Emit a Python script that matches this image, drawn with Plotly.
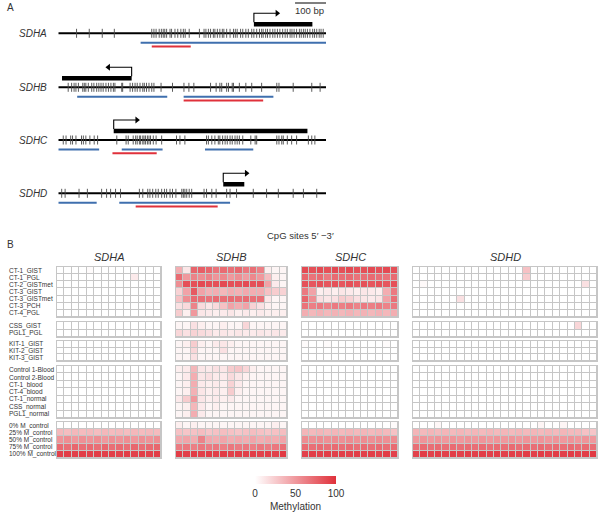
import plotly.graph_objects as go

W, H = 600, 519
FONT = "Liberation Sans, Arial, sans-serif"

# ---------------- Panel A data (positions in bp) ----------------
region_bp = 865
scale_bar_bp = 100
genes = ["SDHA", "SDHB", "SDHC", "SDHD"]

sdha_cpg = [59, 100, 142, 181, 302, 309, 316, 326, 333, 339, 344, 350, 361, 366, 377, 386, 396, 404,
            410, 423, 456, 471, 477, 485, 492, 501, 506, 514, 522, 530, 535, 544, 555, 566, 572, 578,
            589, 596, 606, 614, 625, 632, 641, 650, 657, 662, 670, 676, 684, 693, 700, 708, 716, 725,
            733, 740, 749, 755, 762, 770, 779, 785, 792, 798, 805, 813, 822, 828, 835, 843, 849, 856]
sdhb_cpg = [32, 43, 51, 57, 65, 79, 84, 89, 97, 108, 115, 124, 131, 138, 145, 154, 162, 170, 178, 183,
            205, 208, 232, 240, 248, 255, 264, 273, 278, 285, 293, 302, 309, 332, 369, 406, 422, 438,
            492, 510, 522, 528, 544, 550, 562, 566, 585, 606, 625, 657, 706, 713, 759, 819, 846]
sdhc_cpg = [16, 25, 40, 46, 57, 75, 81, 89, 102, 116, 127, 189, 219, 226, 242, 250, 255, 262, 266, 273,
            277, 282, 288, 293, 298, 307, 316, 334, 382, 393, 409, 479, 485, 496, 506, 517, 522, 531,
            539, 546, 555, 562, 571, 578, 585, 596, 622, 636, 641, 706, 713, 722, 727, 740, 754, 770,
            808, 819, 829]
sdhd_cpg = [11, 22, 67, 94, 140, 156, 169, 185, 201, 262, 273, 289, 296, 305, 315, 323, 334, 343, 350,
            361, 369, 380, 399, 404, 409, 415, 423, 431, 471, 479, 496, 510, 544, 555, 576, 630, 673,
            711, 759, 792, 835]

exon_start = [632, 12, 179, 533]
exon_end = [821, 237, 805, 601]
tss_pos = [632, 237, 179, 533]
tss_dir = [1, -1, 1, 1]
tss_len = 75
blue_regions = [[(266, 865)], [(61, 352), (405, 695)], [(0, 132), (205, 337), (474, 630)], [(0, 124), (197, 555)]]
red_regions = [[(302, 428)], [(405, 662)], [(175, 318)], [(250, 515)]]

# ---------------- Panel B data (% methylation) ----------------
group1_labels = ["CT-1_GIST", "CT-1_PGL", "CT-2_GISTmet", "CT-3_GIST", "CT-3_GISTmet", "CT-3_PCH", "CT-4_PGL"]
group2_labels = ["CSS_GIST", "PGL1_PGL"]
group3_labels = ["KIT-1_GIST", "KIT-2_GIST", "KIT-3_GIST"]
group4_labels = ["Control 1-Blood", "Control 2-Blood", "CT-1_blood", "CT-4_blood", "CT-1_normal", "CSS_normal", "PGL1_normal"]
group5_labels = ["0% M_control", "25% M_control", "50% M_control", "75% M_control", "100% M_control"]

sdha_values = [
    [0, 0, 0, 0, 2, 0, 0, 0, 0, 0, 0, 0, 0, 0],
    [0, 0, 0, 0, 0, 0, 0, 0, 0, 0, 10, 0, 0, 0],
    [0, 0, 0, 0, 0, 0, 0, 0, 0, 0, 0, 0, 0, 0],
    [0, 0, 0, 0, 0, 0, 0, 0, 0, 0, 0, 0, 0, 0],
    [0, 0, 0, 0, 0, 0, 0, 0, 0, 0, 0, 0, 0, 0],
    [0, 0, 0, 0, 0, 0, 0, 0, 0, 0, 0, 0, 0, 0],
    [0, 0, 0, 0, 0, 0, 0, 0, 0, 0, 0, 0, 0, 0],
    [0, 0, 0, 0, 0, 0, 0, 0, 0, 0, 0, 0, 0, 0],
    [0, 0, 0, 0, 0, 0, 0, 0, 0, 0, 0, 0, 0, 0],
    [0, 0, 0, 0, 0, 0, 0, 0, 0, 0, 0, 0, 0, 0],
    [0, 0, 0, 0, 0, 0, 0, 0, 0, 0, 0, 0, 0, 0],
    [0, 0, 0, 0, 0, 0, 0, 0, 0, 0, 0, 0, 0, 0],
    [0, 0, 0, 0, 0, 0, 0, 0, 0, 0, 0, 0, 0, 0],
    [0, 0, 0, 0, 0, 0, 0, 0, 0, 0, 0, 0, 0, 0],
    [0, 0, 0, 0, 0, 0, 0, 0, 0, 0, 0, 0, 0, 0],
    [0, 0, 0, 0, 0, 0, 0, 0, 0, 0, 0, 0, 0, 0],
    [0, 0, 0, 0, 0, 0, 0, 0, 0, 0, 0, 0, 0, 0],
    [0, 0, 0, 0, 0, 0, 0, 0, 0, 0, 0, 0, 0, 0],
    [0, 0, 0, 0, 0, 0, 0, 0, 0, 0, 0, 0, 0, 0],
    [0, 0, 0, 0, 0, 0, 0, 0, 0, 0, 0, 0, 0, 0],
    [34, 32, 35, 33, 34, 32, 35, 33, 34, 32, 35, 33, 34, 33],
    [52, 55, 50, 54, 52, 55, 50, 54, 52, 55, 50, 54, 52, 55],
    [72, 70, 74, 70, 72, 70, 74, 70, 72, 70, 74, 70, 72, 74],
    [92, 94, 92, 94, 92, 94, 92, 94, 92, 94, 92, 94, 92, 94],
]
sdhb_values = [
    [40, 12, 75, 78, 75, 68, 72, 70, 74, 66, 70, 62, 8, 5, 5],
    [72, 50, 60, 55, 60, 52, 58, 50, 55, 48, 58, 50, 32, 8, 5],
    [55, 85, 85, 88, 85, 85, 88, 85, 85, 88, 85, 85, 45, 10, 5],
    [22, 45, 80, 45, 38, 40, 35, 40, 38, 42, 40, 40, 30, 25, 22],
    [30, 55, 72, 70, 68, 72, 70, 72, 70, 72, 70, 70, 12, 5, 5],
    [15, 18, 60, 18, 12, 18, 30, 45, 40, 45, 22, 15, 8, 5, 5],
    [25, 8, 50, 12, 10, 8, 10, 12, 8, 10, 8, 10, 8, 8, 8],
    [5, 5, 15, 8, 5, 5, 8, 5, 5, 20, 5, 5, 5, 5, 5],
    [20, 15, 22, 18, 15, 10, 12, 10, 12, 10, 10, 12, 10, 12, 10],
    [5, 8, 25, 8, 5, 10, 12, 8, 5, 5, 5, 5, 5, 5, 5],
    [5, 5, 20, 5, 5, 5, 15, 5, 5, 5, 5, 5, 5, 5, 5],
    [5, 5, 15, 5, 5, 5, 5, 5, 5, 5, 5, 5, 5, 5, 5],
    [8, 10, 35, 12, 10, 15, 12, 25, 28, 20, 8, 5, 5, 5, 5],
    [5, 10, 40, 12, 15, 10, 10, 18, 12, 8, 5, 5, 5, 5, 5],
    [5, 8, 40, 10, 8, 10, 8, 22, 10, 5, 5, 5, 5, 5, 5],
    [5, 8, 38, 12, 8, 10, 8, 25, 8, 5, 5, 5, 5, 5, 5],
    [10, 25, 50, 12, 8, 10, 8, 10, 5, 5, 5, 5, 5, 5, 5],
    [5, 8, 35, 10, 5, 8, 5, 5, 5, 5, 5, 5, 5, 5, 5],
    [5, 8, 40, 10, 5, 5, 5, 5, 5, 5, 5, 5, 5, 5, 5],
    [8, 5, 8, 5, 5, 5, 5, 5, 5, 5, 5, 5, 5, 8, 5],
    [30, 28, 30, 32, 28, 30, 32, 30, 28, 30, 32, 30, 28, 30, 32],
    [42, 44, 40, 60, 42, 40, 44, 40, 42, 40, 44, 40, 42, 40, 44],
    [64, 66, 62, 66, 64, 66, 62, 66, 64, 66, 62, 66, 64, 66, 70],
    [94, 92, 94, 92, 94, 92, 94, 92, 94, 92, 94, 92, 94, 92, 96],
]
sdhc_values = [
    [88, 85, 88, 85, 88, 85, 88, 85, 85, 88, 85, 88, 85],
    [75, 68, 72, 65, 72, 70, 72, 68, 70, 72, 70, 68, 72],
    [85, 82, 85, 82, 85, 82, 85, 82, 85, 82, 85, 82, 85],
    [65, 45, 8, 10, 8, 12, 10, 8, 12, 10, 8, 40, 65],
    [75, 55, 15, 12, 15, 25, 22, 15, 12, 10, 12, 45, 70],
    [68, 62, 65, 60, 65, 62, 65, 60, 65, 62, 65, 60, 65],
    [40, 35, 38, 35, 38, 35, 38, 35, 38, 35, 38, 35, 40],
    [0, 0, 0, 0, 0, 0, 0, 0, 0, 0, 0, 0, 0],
    [0, 0, 0, 0, 0, 0, 0, 0, 0, 0, 0, 0, 0],
    [2, 0, 0, 2, 0, 0, 0, 0, 0, 0, 0, 2, 0],
    [0, 0, 0, 0, 0, 0, 0, 0, 0, 0, 0, 0, 0],
    [0, 0, 0, 0, 0, 0, 0, 0, 0, 0, 0, 0, 0],
    [0, 0, 0, 0, 0, 0, 0, 0, 0, 0, 0, 0, 0],
    [0, 0, 0, 0, 0, 0, 0, 0, 0, 0, 0, 0, 0],
    [0, 0, 0, 0, 0, 0, 0, 0, 0, 0, 0, 0, 0],
    [0, 0, 0, 0, 0, 0, 0, 0, 0, 0, 0, 0, 0],
    [0, 0, 0, 0, 0, 0, 0, 0, 0, 0, 0, 0, 0],
    [0, 0, 0, 0, 0, 0, 0, 0, 0, 0, 0, 0, 0],
    [0, 0, 0, 0, 0, 0, 0, 0, 0, 0, 0, 0, 0],
    [0, 0, 0, 0, 0, 0, 0, 0, 0, 0, 0, 0, 2],
    [36, 34, 36, 34, 36, 34, 36, 34, 36, 34, 36, 34, 30],
    [56, 54, 56, 54, 56, 54, 56, 54, 56, 54, 56, 54, 56],
    [72, 70, 72, 70, 72, 70, 72, 70, 72, 70, 72, 70, 72],
    [92, 94, 92, 94, 92, 94, 92, 94, 92, 94, 92, 94, 92],
]
sdhd_values = [
    [0, 0, 0, 0, 0, 0, 0, 0, 0, 0, 0, 0, 0, 0, 0, 30, 0, 0, 0, 0, 0, 0, 0, 0, 0],
    [0, 0, 0, 0, 0, 0, 0, 0, 0, 0, 0, 0, 0, 0, 0, 25, 0, 0, 0, 0, 0, 0, 0, 0, 0],
    [0, 3, 0, 0, 0, 0, 0, 0, 0, 0, 0, 0, 0, 0, 0, 0, 0, 0, 0, 0, 0, 0, 0, 15, 0],
    [0, 0, 0, 0, 0, 0, 0, 0, 0, 0, 0, 0, 0, 0, 0, 0, 0, 0, 0, 0, 0, 0, 0, 0, 0],
    [0, 0, 0, 0, 0, 0, 15, 0, 0, 0, 0, 0, 0, 0, 0, 0, 0, 0, 0, 0, 0, 0, 0, 0, 0],
    [0, 0, 0, 0, 0, 0, 0, 0, 0, 0, 0, 0, 0, 0, 0, 0, 0, 0, 0, 0, 0, 0, 0, 0, 0],
    [0, 0, 0, 0, 0, 0, 0, 0, 0, 0, 0, 0, 0, 0, 0, 0, 0, 0, 0, 0, 0, 0, 0, 0, 0],
    [0, 0, 0, 0, 0, 0, 0, 0, 0, 0, 0, 0, 0, 0, 0, 0, 0, 0, 0, 0, 0, 0, 20, 0, 0],
    [0, 0, 0, 0, 0, 0, 0, 0, 0, 0, 0, 0, 0, 0, 0, 0, 0, 0, 0, 0, 0, 0, 0, 0, 0],
    [0, 0, 0, 0, 0, 0, 0, 0, 0, 0, 0, 0, 0, 0, 0, 0, 0, 0, 0, 0, 0, 0, 0, 0, 0],
    [0, 0, 0, 0, 0, 0, 0, 0, 0, 0, 0, 0, 0, 0, 0, 0, 0, 0, 0, 0, 0, 0, 0, 0, 0],
    [0, 0, 0, 0, 0, 0, 0, 0, 0, 0, 0, 0, 0, 0, 0, 0, 0, 0, 0, 0, 0, 0, 0, 0, 0],
    [0, 0, 0, 0, 0, 0, 0, 0, 0, 0, 0, 0, 0, 0, 0, 0, 0, 0, 0, 0, 0, 0, 0, 0, 0],
    [0, 0, 0, 0, 0, 0, 0, 0, 0, 0, 0, 0, 0, 0, 0, 0, 0, 0, 0, 0, 0, 0, 0, 0, 0],
    [0, 0, 0, 0, 0, 0, 0, 0, 0, 0, 0, 0, 0, 0, 0, 0, 0, 0, 0, 0, 0, 0, 0, 0, 0],
    [0, 0, 0, 0, 0, 0, 0, 0, 0, 0, 0, 0, 0, 0, 0, 0, 0, 0, 0, 0, 0, 0, 0, 0, 0],
    [0, 0, 0, 0, 0, 0, 0, 0, 0, 0, 0, 0, 0, 0, 0, 0, 0, 0, 0, 0, 0, 0, 0, 0, 0],
    [0, 0, 0, 0, 0, 0, 0, 0, 0, 0, 0, 0, 0, 0, 0, 0, 0, 0, 0, 0, 0, 0, 0, 0, 0],
    [0, 0, 0, 0, 0, 0, 0, 0, 0, 0, 0, 0, 0, 0, 0, 0, 0, 0, 0, 0, 0, 0, 0, 0, 0],
    [0, 0, 0, 4, 0, 0, 0, 0, 0, 0, 0, 0, 0, 0, 0, 0, 0, 5, 0, 0, 5, 0, 0, 0, 0],
    [36, 34, 36, 34, 36, 34, 36, 34, 36, 34, 36, 34, 36, 34, 36, 34, 36, 34, 36, 34, 36, 34, 34, 30, 28],
    [50, 52, 50, 52, 50, 52, 50, 52, 50, 52, 50, 52, 50, 52, 50, 52, 50, 52, 50, 52, 50, 52, 50, 52, 50],
    [70, 72, 70, 72, 70, 72, 70, 72, 70, 72, 70, 72, 70, 72, 70, 72, 70, 72, 70, 72, 70, 72, 70, 72, 70],
    [92, 94, 92, 94, 92, 94, 92, 94, 92, 94, 92, 94, 92, 94, 92, 94, 92, 94, 92, 94, 92, 94, 92, 94, 96],
]

colorbar_ticks = [0, 50, 100]

# ---------------- Layout constants (pixel geometry) ----------------
def px_x(p):
    return p / W

def px_y(p):
    return 1 - p / H

track_base = [33.3, 87.3, 140.0, 193.3]
gene_x_px = [(57, 161), (176, 287), (302, 398), (413, 597)]
group_y_px = [(267, 317), (322, 337), (341, 361), (366, 418), (422, 458)]
group_labels = [group1_labels, group2_labels, group3_labels, group4_labels, group5_labels]
gene_values = [sdha_values, sdhb_values, sdhc_values, sdhd_values]

RED = "#e0313b"
BLUE = "#3f6fae"
GRID = "#c6c6c6"
colorscale = [[0, "#ffffff"], [1, RED]]

fig = go.Figure()

# ---------------- Panel A traces ----------------
cpg_lists = [sdha_cpg, sdhb_cpg, sdhc_cpg, sdhd_cpg]
for g in range(4):
    b = track_base[g]
    fig.add_trace(go.Scatter(x=[0, region_bp], y=[b, b], mode="lines",
                             line=dict(color="black", width=2), xaxis="x", yaxis="y",
                             hoverinfo="skip", showlegend=False))
    tx, ty = [], []
    for p in cpg_lists[g]:
        tx += [p, p, None]
        ty += [b - 4.5, b + 4.5, None]
    fig.add_trace(go.Scatter(x=tx, y=ty, mode="lines", line=dict(color="#4a4a4a", width=0.9),
                             xaxis="x", yaxis="y", hoverinfo="skip", showlegend=False))
    fig.add_trace(go.Scatter(x=[exon_start[g], exon_end[g]], y=[b - 9, b - 9], mode="lines",
                             line=dict(color="black", width=4.5), xaxis="x", yaxis="y",
                             hoverinfo="skip", showlegend=False))
    t = tss_pos[g]
    end = t + tss_dir[g] * tss_len
    fig.add_trace(go.Scatter(x=[t, t, end], y=[b - 11, b - 20, b - 20], mode="lines",
                             line=dict(color="black", width=1.1), xaxis="x", yaxis="y",
                             hoverinfo="skip", showlegend=False))
    fig.add_trace(go.Scatter(x=[end], y=[b - 20], mode="markers",
                             marker=dict(symbol="triangle-right" if tss_dir[g] > 0 else "triangle-left",
                                         size=6, color="black"),
                             xaxis="x", yaxis="y", hoverinfo="skip", showlegend=False))
    for (s, e) in blue_regions[g]:
        fig.add_trace(go.Scatter(x=[s, e], y=[b + 9.5, b + 9.5], mode="lines",
                                 line=dict(color=BLUE, width=2), xaxis="x", yaxis="y",
                                 hoverinfo="skip", showlegend=False))
    for (s, e) in red_regions[g]:
        fig.add_trace(go.Scatter(x=[s, e], y=[b + 13.3, b + 13.3], mode="lines",
                                 line=dict(color=RED, width=2), xaxis="x", yaxis="y",
                                 hoverinfo="skip", showlegend=False))

fig.add_trace(go.Scatter(x=[region_bp - scale_bar_bp, region_bp], y=[3, 3], mode="lines",
                         line=dict(color="black", width=1), xaxis="x", yaxis="y",
                         hoverinfo="skip", showlegend=False))

# ---------------- Panel B heatmaps ----------------
row_start = 0
first = True
for k, labels in enumerate(group_labels):
    n = len(labels)
    for g in range(4):
        z = gene_values[g][row_start:row_start + n]
        xa = "x%d" % (g + 2)
        ya = "y%d" % (k + 2)
        tr = go.Heatmap(z=z, x=list(range(len(z[0]))), y=list(range(n)),
                        zmin=0, zmax=100, colorscale=colorscale,
                        xgap=1, ygap=1, xaxis=xa, yaxis=ya, hoverinfo="skip",
                        showscale=first)
        if first:
            tr.colorbar = dict(orientation="h", x=px_x(295.5), xanchor="center",
                               y=px_y(476), yanchor="top", len=81, lenmode="pixels",
                               thickness=8, thicknessmode="pixels", outlinewidth=0,
                               xpad=0, ypad=0, tickvals=colorbar_ticks, ticks="",
                               tickfont=dict(size=10, color="#333", family=FONT),
                               title=dict(text="Methylation", side="bottom",
                                          font=dict(size=10, color="#333", family=FONT)))
            first = False
        fig.add_trace(tr)
    row_start += n

layout = dict(
    width=W, height=H, margin=dict(l=0, r=0, t=0, b=0),
    paper_bgcolor="white", plot_bgcolor=GRID, showlegend=False,
    font=dict(family=FONT, color="#333"),
    xaxis=dict(domain=[px_x(58.3), px_x(326)], range=[0, region_bp], visible=False, anchor="y"),
    yaxis=dict(domain=[px_y(215), px_y(0)], range=[215, 0], visible=False, anchor="x"),
)
for g in range(4):
    x0, x1 = gene_x_px[g]
    ncol = len(gene_values[g][0])
    layout["xaxis%d" % (g + 2)] = dict(domain=[px_x(x0), px_x(x1)], range=[-0.5, ncol - 0.5],
                                       anchor="y2", showticklabels=False, ticks="", showgrid=False,
                                       zeroline=False, showline=True, mirror="all",
                                       linecolor=GRID, linewidth=1)
for k in range(5):
    y0, y1 = group_y_px[k]
    n = len(group_labels[k])
    layout["yaxis%d" % (k + 2)] = dict(domain=[px_y(y1), px_y(y0)], range=[n - 0.5, -0.5],
                                       anchor="x2", showticklabels=False, ticks="", showgrid=False,
                                       zeroline=False, showline=True, mirror="all",
                                       linecolor=GRID, linewidth=1)
fig.update_layout(**layout)

fig.add_shape(type="rect", xref="x domain", yref="y domain", x0=-0.2, x1=1.05, y0=0, y1=1,
              fillcolor="white", line=dict(width=0), layer="below")

ann = []
ann.append(dict(text="A", x=px_x(5), y=px_y(7), xref="paper", yref="paper",
                xanchor="left", yanchor="middle", showarrow=False, font=dict(size=10, color="#333")))
ann.append(dict(text="100 bp", x=region_bp, y=10.5, xref="x", yref="y",
                xanchor="right", yanchor="middle", showarrow=False, font=dict(size=9.5, color="#333")))
for g in range(4):
    ann.append(dict(text="<i>%s</i>" % genes[g], x=px_x(33), y=track_base[g], xref="paper", yref="y",
                    xanchor="center", yanchor="middle", showarrow=False, font=dict(size=10, color="#333")))
ann.append(dict(text="B", x=px_x(5), y=px_y(244), xref="paper", yref="paper",
                xanchor="left", yanchor="middle", showarrow=False, font=dict(size=10, color="#333")))
ann.append(dict(text="CpG sites 5\u2032 \u22123\u2032", x=px_x(300), y=px_y(236), xref="paper", yref="paper",
                xanchor="center", yanchor="middle", showarrow=False, font=dict(size=9.5, color="#333")))
for g in range(4):
    ann.append(dict(text="<i>%s</i>" % genes[g], x=0.5, y=px_y(257), xref="x%d domain" % (g + 2),
                    yref="paper", xanchor="center", yanchor="middle", showarrow=False,
                    font=dict(size=11, color="#333")))
for k, labels in enumerate(group_labels):
    for i, lab in enumerate(labels):
        ann.append(dict(text=lab, x=px_x(7), y=i, xref="paper", yref="y%d" % (k + 2),
                        xanchor="left", yanchor="middle", showarrow=False,
                        font=dict(size=6.5, color="#333")))
fig.update_layout(annotations=ann)

fig.write_html("out.html", config={"displayModeBar": False},
               post_script="document.body.style.margin='0px';document.body.style.overflow='hidden';")
